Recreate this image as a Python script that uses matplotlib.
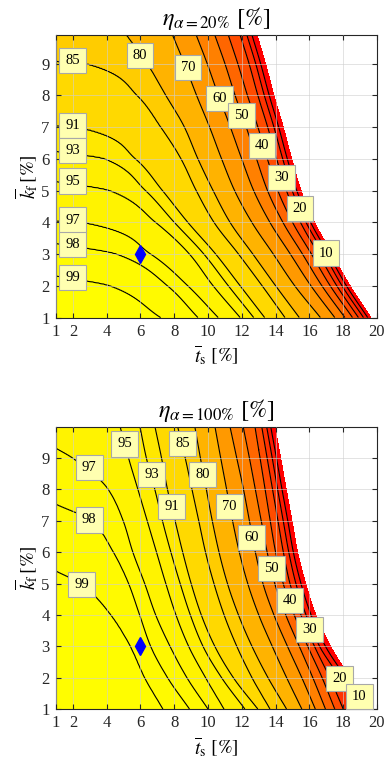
import numpy as np
import matplotlib
matplotlib.use('Agg')
import matplotlib.pyplot as plt

plt.rcParams['font.family'] = 'serif'
plt.rcParams['font.serif'] = ['Liberation Serif', 'DejaVu Serif']
plt.rcParams['mathtext.fontset'] = 'stix'

# contour levels drawn as lines; 0 is the feasibility limit (white beyond it)
line_levels = [10, 20, 30, 40, 50, 60, 70, 80, 85, 91, 93, 95, 97, 98, 99]
fill_levels = [0] + line_levels + [100]

ts_ticks = [1, 2, 4, 6, 8, 10, 12, 14, 16, 18, 20]
kf_ticks = [1, 2, 3, 4, 5, 6, 7, 8, 9]

# operating point
ts_point = 6
kf_point = 3

nan = np.nan

# ---- alpha = 20 % ----
kf_rows_20 = [1, 2, 3, 4, 5, 6, 7, 8, 9, 9.9]
eta_edge_20 = [99.6, 99.2, 98.35, 97.05, 95.5, 93.5, 91.1, 88.0, 85.2, 82.7]   # at ts = 1 %
# ts [%] where each level crosses the kf rows above
ts_cross_20 = {
    99: [7.2, 4.2, nan, nan, nan, nan, nan, nan, nan, nan],
    98: [9.4, 7.6, 4.6, nan, nan, nan, nan, nan, nan, nan],
    97: [10.6, 8.8, 6.6, 2.6, nan, nan, nan, nan, nan, nan],
    95: [11.9, 10.3, 8.9, 6.9, 4.2, nan, nan, nan, nan, nan],
    93: [12.7, 11.2, 9.75, 8.0, 6.3, 3.9, nan, nan, nan, nan],
    91: [13.35, 11.9, 10.45, 8.8, 7.3, 5.7, 2.3, nan, nan, nan],
    85: [14.55, 13.2, 11.8, 10.35, 9.3, 8.4, 7.2, 5.8, 2.8, nan],
    80: [15.4, 14.0, 12.65, 11.3, 10.3, 9.4, 8.6, 7.5, 6.4, 5.18],
    70: [16.65, 15.13, 13.86, 12.59, 11.57, 10.8, 10.09, 9.32, 8.6, 7.9],
    60: [17.5, 16.09, 14.87, 13.66, 12.7, 11.99, 11.32, 10.61, 9.95, 9.3],
    50: [18.1, 16.74, 15.59, 14.43, 13.52, 12.87, 12.26, 11.6, 11.0, 10.4],
    40: [18.55, 17.23, 16.12, 15.0, 14.13, 13.51, 12.95, 12.33, 11.76, 11.2],
    30: [18.9, 17.62, 16.54, 15.47, 14.64, 14.06, 13.53, 12.95, 12.43, 11.9],
    20: [19.2, 17.93, 16.87, 15.8, 14.98, 14.42, 13.9, 13.33, 12.82, 12.3],
    10: [19.45, 18.19, 17.13, 16.07, 15.25, 14.69, 14.18, 13.62, 13.11, 12.6],
    0: [19.65, 18.4, 17.35, 16.3, 15.5, 14.95, 14.45, 13.9, 13.4, 12.9],
}
label_pos_20 = {
    85: (2.0, 9.1), 80: (5.97, 9.25), 70: (8.81, 8.88), 60: (10.7, 7.9),
    50: (12.0, 7.37), 40: (13.19, 6.42), 30: (14.37, 5.42), 20: (15.44, 4.44),
    10: (16.98, 3.03), 91: (2.0, 7.05), 93: (2.0, 6.27), 95: (2.0, 5.3),
    97: (2.0, 4.07), 98: (2.0, 3.3), 99: (2.0, 2.27),
}

# ---- alpha = 100 % ----
kf_rows_100 = [1, 2, 3, 4, 5, 6, 7, 8, 9, 10]
eta_edge_100 = [99.8, 99.6, 99.45, 99.3, 99.16, 98.7, 98.25, 97.75, 97.17, 96.6]
ts_cross_100 = {
    99: [7.33, 6.25, 5.4, 4.25, 2.45, nan, nan, nan, nan, nan],
    98: [8.9, 7.6, 6.6, 5.95, 5.3, 4.4, 3.1, nan, nan, nan],
    97: [10.0, 8.75, 7.75, 6.9, 6.25, 5.55, 4.98, 4.1, 2.0, nan],
    95: [10.94, 9.85, 8.85, 8.1, 7.5, 6.95, 6.4, 5.85, 5.3, 4.8],
    93: [12.18, 10.8, 9.7, 8.95, 8.35, 7.8, 7.3, 6.85, 6.35, 5.97],
    91: [12.95, 11.5, 10.4, 9.6, 9.0, 8.5, 8.05, 7.6, 7.25, 6.86],
    85: [13.66, 12.6, 11.7, 10.95, 10.35, 9.85, 9.45, 9.05, 8.65, 8.2],
    80: [14.65, 13.55, 12.6, 11.8, 11.15, 10.65, 10.25, 9.9, 9.55, 9.22],
    70: [15.55, 14.65, 13.8, 13.0, 12.35, 11.85, 11.45, 11.1, 10.75, 10.41],
    60: [16.35, 15.55, 14.7, 13.9, 13.25, 12.8, 12.45, 12.1, 11.7, 11.3],
    50: [16.95, 16.2, 15.4, 14.6, 13.95, 13.5, 13.15, 12.8, 12.45, 12.08],
    40: [17.5, 16.75, 15.9, 15.1, 14.45, 14.0, 13.68, 13.38, 13.08, 12.78],
    30: [18.0, 17.2, 16.3, 15.5, 14.85, 14.46, 14.14, 13.82, 13.5, 13.18],
    20: [18.7, 17.78, 16.6, 15.8, 15.2, 14.78, 14.45, 14.12, 13.8, 13.47],
    10: [19.3, 18.15, 16.95, 16.1, 15.5, 15.05, 14.72, 14.38, 14.05, 13.71],
    0: [19.6, 18.4, 17.25, 16.38, 15.78, 15.3, 14.97, 14.63, 14.3, 13.96],
}
label_pos_100 = {
    95: (5.08, 9.45), 93: (6.66, 8.47), 91: (7.85, 7.45), 85: (8.5, 9.47),
    80: (9.66, 8.47), 70: (11.26, 7.45), 60: (12.58, 6.48), 50: (13.76, 5.47),
    40: (14.85, 4.46), 30: (15.99, 3.53), 20: (17.8, 1.98), 10: (18.95, 1.41),
    97: (2.97, 8.7), 98: (2.97, 7.03), 99: (2.52, 4.96),
}


def pchip(x, y, xq):
    """Monotone cubic (Fritsch-Carlson) through (x, y)."""
    x = np.asarray(x, float)
    y = np.asarray(y, float)
    h = np.diff(x)
    d = np.diff(y) / h
    n = len(x)
    m = np.zeros(n)
    m[0], m[-1] = d[0], d[-1]
    for k in range(1, n - 1):
        if d[k - 1] * d[k] > 0:
            w1 = 2 * h[k] + h[k - 1]
            w2 = h[k] + 2 * h[k - 1]
            m[k] = (w1 + w2) / (w1 / d[k - 1] + w2 / d[k])
    i = np.clip(np.searchsorted(x, xq) - 1, 0, n - 2)
    t = (xq - x[i]) / h[i]
    h00 = 2 * t**3 - 3 * t**2 + 1
    h10 = t**3 - 2 * t**2 + t
    h01 = -2 * t**3 + 3 * t**2
    h11 = t**3 - t**2
    return h00 * y[i] + h10 * h[i] * m[i] + h01 * y[i + 1] + h11 * h[i] * m[i + 1]


def build_field(ts_grid, kf_grid, kf_rows, eta_edge, ts_cross):
    """eta on a fine grid: every level follows a smooth curve through its
    crossings, values in between are joined in log(100 - eta)."""
    kf_rows = np.asarray(kf_rows, float)
    g_edge = np.log(100.0 - np.asarray(eta_edge))
    g_edge_fine = np.interp(kf_grid, kf_rows, g_edge)

    # crossing position of every level on the fine kf grid
    curves = {}
    for lev, ts_list in ts_cross.items():
        ts_arr = np.asarray(ts_list, float)
        ok = ~np.isnan(ts_arr)
        kk = list(kf_rows[ok])
        tt = list(ts_arr[ok])
        g_lev = np.log(100.0 - lev)
        kf_max = kf_grid[-1]
        if g_lev <= g_edge[-1]:
            # leaves through the left edge where the edge value equals the level
            kf_exit = np.interp(g_lev, g_edge, kf_rows)
            kk.append(kf_exit)
            tt.append(1.0)
            kf_max = kf_exit
        curve = np.full(kf_grid.shape, np.nan)
        inside = kf_grid <= kf_max
        curve[inside] = pchip(kk, tt, kf_grid[inside])
        curves[lev] = curve

    g = np.zeros((len(kf_grid), len(ts_grid)))
    for r in range(len(kf_grid)):
        xs, gs = [1.0], [g_edge_fine[r]]
        for lev in sorted(curves, reverse=True):
            t = curves[lev][r]
            if np.isnan(t) or t <= 1.0:
                continue
            t = max(t, xs[-1] + 1e-4)
            xs.append(t)
            gs.append(np.log(100.0 - lev))
        # carry on past the limit with the last slope
        slope = (gs[-1] - gs[-2]) / (xs[-1] - xs[-2])
        xs.append(xs[-1] + 10.0)
        gs.append(gs[-1] + 10.0 * slope)
        g[r] = np.interp(ts_grid, xs, gs)
    return 100.0 - np.exp(g)


def draw_panel(ax, kf_rows, eta_edge, ts_cross, label_pos, title, kf_top):
    ts_grid = np.linspace(1, 20, 571)
    kf_grid = np.linspace(1, kf_top, 271)
    eta = build_field(ts_grid, kf_grid, kf_rows, eta_edge, ts_cross)
    X, Y = np.meshgrid(ts_grid, kf_grid)

    colors = [plt.cm.autumn(lo / 100.0) for lo in fill_levels[:-1]]
    ax.contourf(X, Y, eta, levels=fill_levels, colors=colors)
    ax.contour(X, Y, eta, levels=line_levels, colors='k', linewidths=0.8)

    for lev, (x, y) in label_pos.items():
        ax.text(x, y, '%d' % lev, fontsize=10.5, ha='center', va='center', zorder=4,
                bbox=dict(boxstyle='square,pad=0.42', fc='#ffffb0', ec='#a8a8a8', lw=0.8))

    ax.plot(ts_point, kf_point, marker='d', markersize=9, color='#0000ff', zorder=5)

    ax.set_xlim(1, 20)
    ax.set_ylim(1, kf_top)
    ax.set_xticks(ts_ticks)
    ax.set_yticks(kf_ticks)
    ax.tick_params(direction='in', top=True, right=True, length=3.5, labelsize=12,
                   colors='#262626', pad=4.5)
    ax.grid(True, color='#cfcfcf', alpha=0.6, linewidth=0.7)
    ax.set_axisbelow(False)
    for sp in ax.spines.values():
        sp.set_color('#262626')
        sp.set_linewidth(0.8)

    ax.set_title(title, fontsize=17.5, pad=7)
    ax.set_xlabel(r'$\overline{t}_{\mathrm{s}}$ $[\%]$', fontsize=14, labelpad=3)
    ax.set_ylabel(r'$\overline{k}_{\mathrm{f}}\,[\%]$', fontsize=14, labelpad=1)


fig = plt.figure(figsize=(3.88, 7.66), dpi=100)
ax1 = fig.add_axes([0.1443, 0.5855, 0.8273, 0.3688])
ax2 = fig.add_axes([0.1443, 0.0744, 0.8273, 0.3685])

draw_panel(ax1, kf_rows_20, eta_edge_20, ts_cross_20, label_pos_20,
           r'$\eta_{\alpha=20\%}$ $[\%]$', 9.9)
draw_panel(ax2, kf_rows_100, eta_edge_100, ts_cross_100, label_pos_100,
           r'$\eta_{\alpha=100\%}$ $[\%]$', 10)

fig.savefig('out.png', dpi=100)
